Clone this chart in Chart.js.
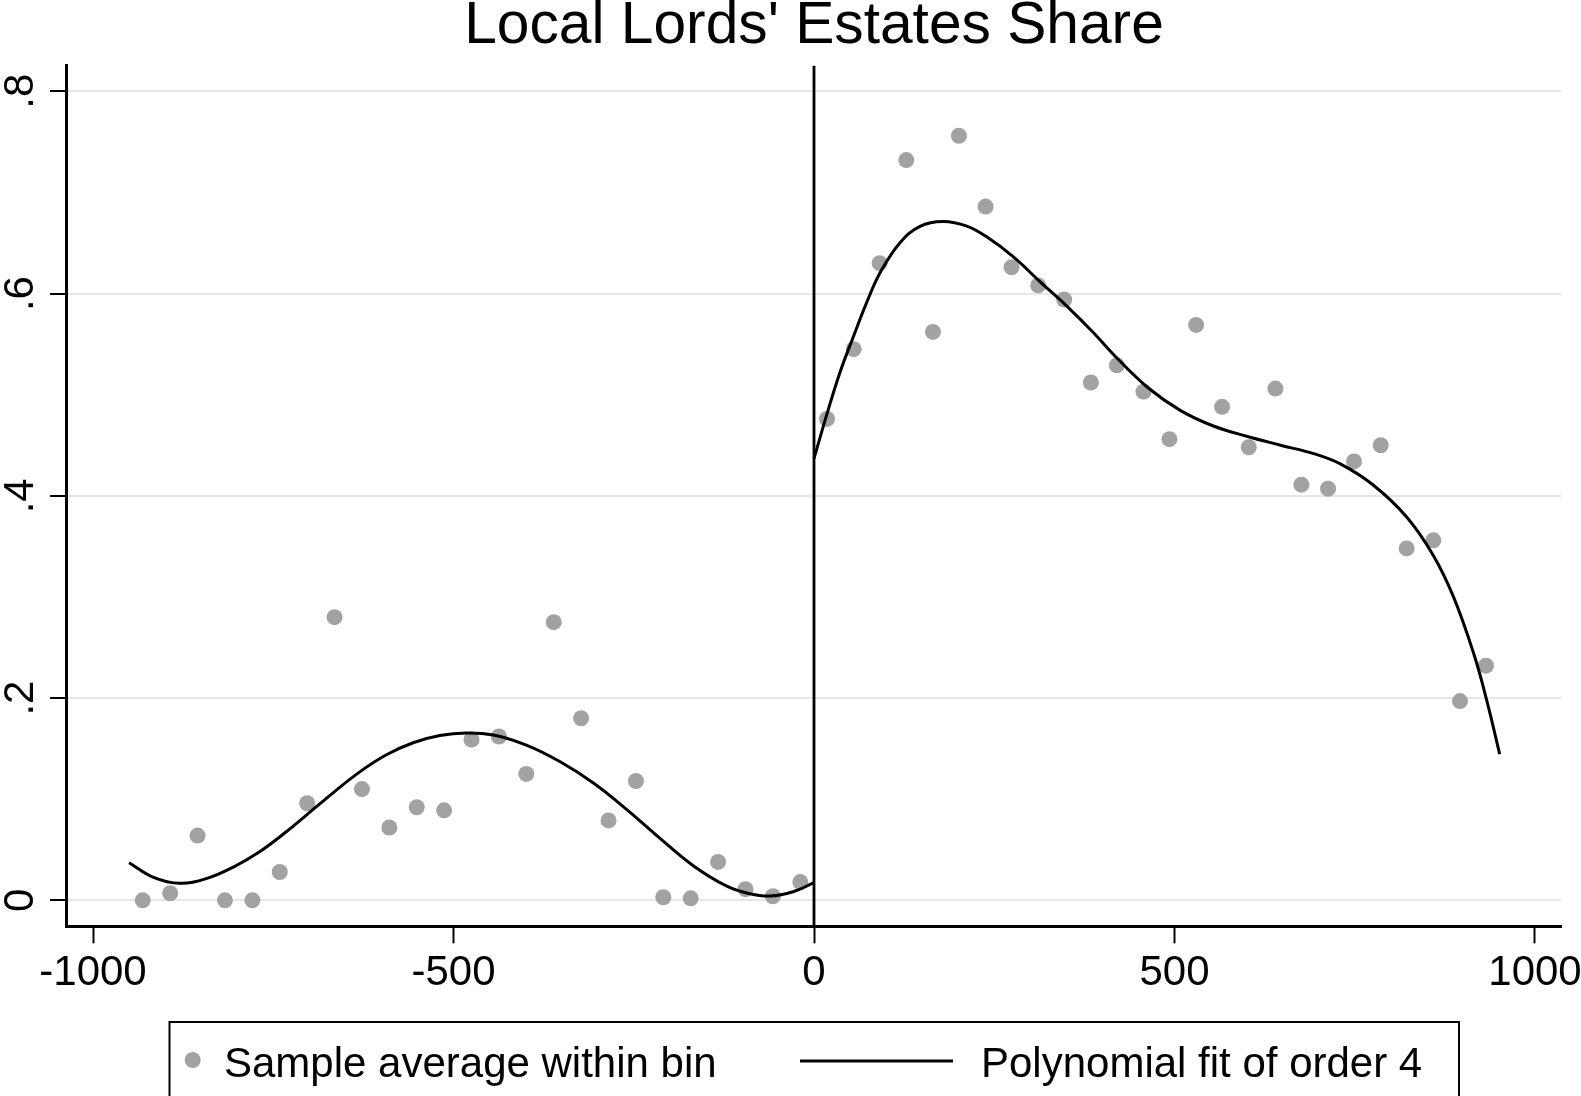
<!DOCTYPE html>
<html>
<head>
<meta charset="utf-8">
<script src="https://cdn.jsdelivr.net/npm/chart.js@4.4.1/dist/chart.umd.min.js"></script>
<style>
  html, body { margin: 0; padding: 0; background: #ffffff; }
  #wrap { width: 1581px; height: 1096px; position: relative; overflow: hidden; }
  canvas { display: block; }
</style>
</head>
<body>
<div id="wrap"><canvas id="chart" width="1581" height="1096"></canvas></div>
<script>
// ---------------- DATA ----------------
const titleText = "Local Lords' Estates Share";
const legendLabels = ["Sample average within bin", "Polynomial fit of order 4"];

// Binned sample averages, left of cutoff
const binXLeft = [-931, -893, -855, -817, -779, -741, -703, -665, -627, -589, -551, -513, -475,
                  -437, -399, -361, -323, -285, -247, -209, -171, -133, -95, -57, -19];
const binYLeft = [0.000, 0.007, 0.064, 0.000, 0.000, 0.028, 0.096, 0.280, 0.110, 0.072, 0.092, 0.089, 0.159,
                  0.162, 0.125, 0.275, 0.180, 0.079, 0.118, 0.003, 0.002, 0.038, 0.011, 0.004, 0.018];

// Binned sample averages, right of cutoff
const binXRight = [18, 55, 91, 128, 165, 201, 238, 274, 311, 347, 384, 420, 457,
                   493, 530, 566, 603, 640, 676, 713, 749, 786, 822, 859, 896, 932];
const binYRight = [0.476, 0.545, 0.630, 0.732, 0.562, 0.756, 0.686, 0.626, 0.608, 0.594, 0.512, 0.529, 0.503,
                   0.456, 0.569, 0.488, 0.448, 0.506, 0.411, 0.407, 0.434, 0.450, 0.348, 0.356, 0.197, 0.232];

// Polynomial fit (order 4), left side
const fitXLeft = [-950, -916, -880, -843, -806, -769, -732, -704, -667, -630, -593, -556, -519, -482,
                  -445, -399, -352, -306, -260, -214, -168, -121, -89, -61, -29, 0];
const fitYLeft = [0.0372, 0.0227, 0.0168, 0.0214, 0.0326, 0.0480, 0.0678, 0.0843, 0.1063, 0.1270, 0.1439, 0.1558, 0.1630, 0.1655,
                  0.1635, 0.1535, 0.1370, 0.1160, 0.0900, 0.0615, 0.0345, 0.0140, 0.0065, 0.0042, 0.0085, 0.0174];

// Polynomial fit (order 4), right side
const fitXRight = [0, 18, 36, 55, 73, 92, 119, 147, 179, 212, 240, 277, 314, 351, 388, 415,
                   462, 508, 554, 600, 647, 693, 730, 776, 822, 859, 887, 915, 933, 951];
const fitYRight = [0.4368, 0.4810, 0.5220, 0.5580, 0.5910, 0.6210, 0.6500, 0.6665, 0.6713, 0.6667, 0.6558, 0.6360, 0.6113, 0.5873, 0.5610, 0.5400,
                   0.5076, 0.4845, 0.4690, 0.4589, 0.4500, 0.4417, 0.4315, 0.4104, 0.3790, 0.3410, 0.3000, 0.2440, 0.1980, 0.1446];

const cutoff = 0;
const xTicks = [-1000, -500, 0, 500, 1000];
const xTickLabels = ["-1000", "-500", "0", "500", "1000"];
const yTicks = [0, 0.2, 0.4, 0.6, 0.8];
const yTickLabels = ["0", ".2", ".4", ".6", ".8"];
const xRange = [-1036.5, 1036.5];
const yRange = [-0.0261, 0.8253];

// ---------------- CHART ----------------
const FONT = "'Liberation Sans', Arial, Helvetica, sans-serif";
const toPts = (xs, ys) => xs.map((x, i) => ({ x: x, y: ys[i] }));

const overlayPlugin = {
  id: 'overlay',
  afterDatasetsDraw(chart) {
    const { ctx, chartArea, scales } = chart;
    // cutoff line
    const px = scales.x.getPixelForValue(cutoff);
    ctx.save();
    ctx.strokeStyle = '#000';
    ctx.lineWidth = 2.8;
    ctx.beginPath();
    ctx.moveTo(px, chartArea.top);
    ctx.lineTo(px, chartArea.bottom);
    ctx.stroke();
    ctx.restore();
  },
  afterDraw(chart) {
    const { ctx, scales } = chart;
    // rotated y tick labels
    ctx.save();
    ctx.fillStyle = '#000';
    ctx.font = '42px ' + FONT;
    ctx.textAlign = 'center';
    ctx.textBaseline = 'alphabetic';
    yTicks.forEach((v, i) => {
      const py = scales.y.getPixelForValue(v);
      ctx.save();
      ctx.translate(33, py);
      ctx.rotate(-Math.PI / 2);
      ctx.fillText(yTickLabels[i], 0, 0);
      ctx.restore();
    });
    ctx.restore();

    // legend
    const ds = chart.data.datasets;
    ctx.save();
    ctx.strokeStyle = '#000';
    ctx.lineWidth = 2;
    ctx.strokeRect(169.5, 1022, 1289.5, 100);
    // marker 1
    ctx.fillStyle = ds[1].backgroundColor;
    ctx.beginPath();
    ctx.arc(192.7, 1060, 8, 0, Math.PI * 2);
    ctx.fill();
    // text 1
    ctx.fillStyle = '#000';
    ctx.font = '42px ' + FONT;
    ctx.textAlign = 'left';
    ctx.textBaseline = 'alphabetic';
    ctx.fillText(ds[1].label, 224, 1076.5);
    // marker 2
    ctx.strokeStyle = ds[0].borderColor;
    ctx.lineWidth = 3;
    ctx.beginPath();
    ctx.moveTo(800, 1061);
    ctx.lineTo(953, 1061);
    ctx.stroke();
    ctx.fillText(ds[0].label, 981, 1076.5);
    ctx.restore();
  }
};

const chart = new Chart(document.getElementById('chart'), {
  type: 'scatter',
  data: {
    datasets: [
      {
        label: legendLabels[1],
        data: toPts(fitXLeft, fitYLeft),
        showLine: true,
        borderColor: '#000000',
        borderWidth: 3,
        pointRadius: 0,
        tension: 0.4,
        fill: false,
        order: 1
      },
      {
        label: legendLabels[0],
        data: toPts(binXLeft, binYLeft).concat(toPts(binXRight, binYRight)),
        backgroundColor: '#a2a2a2',
        borderWidth: 0,
        pointRadius: 8,
        order: 3
      },
      {
        label: legendLabels[1],
        data: toPts(fitXRight, fitYRight),
        showLine: true,
        borderColor: '#000000',
        borderWidth: 3,
        pointRadius: 0,
        tension: 0.4,
        fill: false,
        order: 2
      }
    ]
  },
  options: {
    responsive: false,
    devicePixelRatio: 1,
    animation: false,
    events: [],
    layout: { padding: { left: 66.7, right: 19.7, top: 0, bottom: 0 } },
    plugins: {
      legend: { display: false },
      tooltip: { enabled: false },
      title: {
        display: true,
        text: titleText,
        color: '#000',
        font: { family: FONT, size: 58.7, weight: 'normal', lineHeight: 0.93 },
        padding: { top: 0, bottom: 11.1 }
      }
    },
    scales: {
      x: {
        type: 'linear',
        min: xRange[0],
        max: xRange[1],
        afterBuildTicks: (s) => { s.ticks = xTicks.map(v => ({ value: v })); },
        afterFit: (s) => { s.height = 169.3; s.paddingLeft = 0; s.paddingRight = 0; },
        ticks: {
          color: '#000',
          font: { family: FONT, size: 42, lineHeight: 1.2 },
          padding: 5,
          maxRotation: 0,
          minRotation: 0,
          autoSkip: false,
          callback: (v) => { const i = xTicks.indexOf(v); return i >= 0 ? xTickLabels[i] : ''; }
        },
        grid: {
          drawOnChartArea: false,
          drawTicks: true,
          tickLength: 16.6,
          tickColor: '#000',
          tickWidth: 2
        },
        border: { display: true, color: '#000', width: 3 }
      },
      y: {
        type: 'linear',
        min: yRange[0],
        max: yRange[1],
        afterBuildTicks: (s) => { s.ticks = yTicks.map(v => ({ value: v })); },
        afterFit: (s) => { s.width = 0; s.paddingTop = 0; s.paddingBottom = 0; },
        ticks: { display: false },
        grid: {
          color: '#e6e6e6',
          lineWidth: 2,
          drawOnChartArea: true,
          drawTicks: true,
          tickLength: 16.7,
          tickColor: '#000',
          tickWidth: 2
        },
        border: { display: true, color: '#000', width: 3 }
      }
    }
  },
  plugins: [overlayPlugin]
});
</script>
</body>
</html>
